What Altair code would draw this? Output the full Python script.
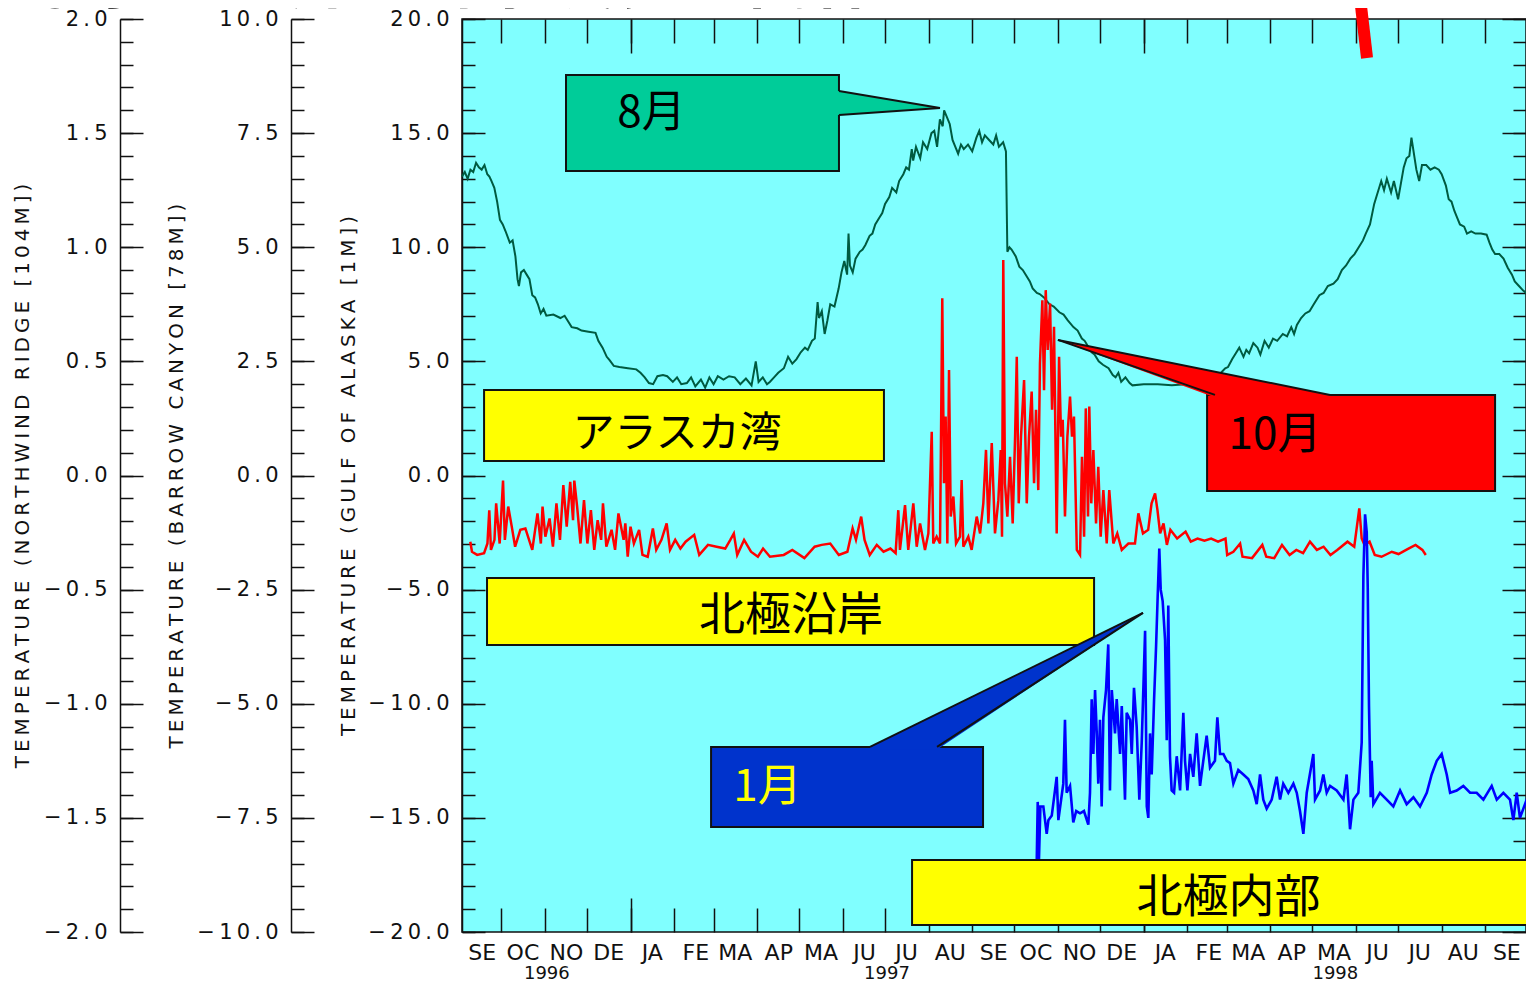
import json
import altair as alt
import pandas as pd

START = pd.Timestamp("1996-09-03")
W, H = 1064, 913
INK = "#111111"

# ---------------- series: days since 1996-09-03, temperature (degC) ----------------
# Gulf of Alaska, 1 m
GREEN_DAY = [
    0, 2, 4, 6, 8, 10, 12, 14, 16, 18,
    19.5, 21, 23, 25, 27, 29, 31, 34, 36, 38,
    39.5, 40.5, 42, 44, 46, 48, 50, 52, 54, 56,
    58, 60, 65, 70, 73, 76, 78, 82, 85, 90,
    95, 97, 100, 103, 105, 108, 112, 118, 124, 127,
    130, 133, 136, 139, 143, 146, 150, 153, 156, 160,
    163, 166, 170, 173, 176, 179, 182, 186, 190, 194,
    198, 202, 206, 209, 211, 214, 217, 219, 222, 225,
    229, 232, 235, 238, 241, 244, 246, 249, 251, 253,
    254, 256, 258, 260, 262, 265, 268, 270, 272, 274,
    275, 276, 278, 280, 283, 285, 287, 290, 292, 294,
    297, 299, 301, 304, 306, 309, 311, 314, 316, 318,
    320, 321, 323, 326, 328, 331, 334, 336, 338, 340,
    342, 343, 345, 347, 349, 351, 353, 355, 357, 360,
    363, 366, 368, 370, 372, 375, 378, 380, 382, 385,
    387, 388, 389.5, 391, 394, 396.5, 399, 401.5, 404, 406,
    409, 411, 414, 418, 421, 425, 428, 431, 435, 438,
    441, 443, 446, 448, 450, 453, 456, 460, 463, 465,
    467, 469, 472, 475, 477, 485, 495, 505, 515, 525,
    530, 533, 536, 540, 543, 545, 548, 550, 553, 556,
    558, 560, 563, 566, 568, 571, 574, 577, 580, 584,
    587, 590, 592, 594, 597, 600, 603, 606, 610, 613,
    616, 620, 623, 626, 629, 632, 635, 638, 641, 643,
    646, 649, 651, 654, 656, 658, 661, 663, 666, 668,
    670, 672, 674, 675.5, 677, 679, 681, 683, 686, 689,
    692, 695, 697, 700, 702, 704, 706, 708, 710, 713,
    715, 718, 721, 725, 729, 731, 733, 735, 738, 741,
    744, 747, 749, 752, 755, 758, 761, 763.5,
]
GREEN_TEMP = [
    13.1, 13.3, 13.0, 13.4, 13.3, 13.7, 13.5, 13.4, 13.6, 13.2,
    13.1, 12.9, 12.6, 12.0, 11.2, 11.0, 10.7, 10.2, 10.3, 9.6,
    8.6, 8.3, 8.9, 9.0, 8.8, 8.6, 7.9, 7.8, 7.5, 7.1,
    7.3, 7.0, 7.05, 6.9, 7.0, 6.7, 6.5, 6.45, 6.35, 6.3,
    6.25, 5.9, 5.6, 5.2, 5.05, 4.8, 4.75, 4.7, 4.65, 4.5,
    4.3, 4.05, 4.0, 4.35, 4.4, 4.35, 4.1, 4.3, 4.0, 4.05,
    4.3, 3.9, 4.2, 3.85, 4.3, 4.0, 4.35, 4.2, 4.35, 4.3,
    4.0, 4.25, 3.95, 5.0, 4.1, 4.3, 4.0, 4.1, 4.3, 4.5,
    4.7, 5.2, 4.9, 5.1, 5.4, 5.6, 5.5, 5.9, 6.0, 7.6,
    6.9, 7.2, 6.2, 6.8, 7.5, 7.4, 8.2, 8.9, 9.4, 8.8,
    10.6, 9.2, 8.9, 9.5, 9.8, 9.9, 10.1, 10.5, 10.6, 11.0,
    11.3, 11.5, 11.9, 12.2, 12.6, 12.4, 12.9, 13.2, 13.5, 13.4,
    14.3, 13.8, 14.4, 13.9, 14.6, 14.3, 15.0, 15.1, 14.4, 15.6,
    15.3, 16.0, 15.7, 15.4, 14.7, 14.4, 14.1, 14.5, 14.3, 14.5,
    14.2, 14.8, 15.1, 14.6, 14.9, 14.7, 14.5, 14.9, 14.4, 14.6,
    14.2, 9.8, 10.0, 9.9, 9.6, 9.15, 9.0, 8.75, 8.5, 8.2,
    8.0, 7.95, 7.8, 7.5, 7.4, 7.15, 7.05, 6.8, 6.5, 6.35,
    6.0, 5.9, 5.6, 5.4, 5.3, 5.0, 4.85, 4.7, 4.4, 4.3,
    4.5, 4.1, 4.3, 4.05, 3.95, 4.0, 4.0, 3.95, 4.0, 4.0,
    4.05, 4.2, 4.35, 4.5, 4.7, 4.75, 5.1, 5.3, 5.6, 5.2,
    5.5, 5.35, 5.8, 5.6, 5.3, 5.9, 5.6, 6.0, 5.9, 6.2,
    6.1, 6.5, 6.2, 6.6, 6.9, 7.1, 7.2, 7.5, 7.9, 8.0,
    8.3, 8.4, 8.6, 9.0, 9.2, 9.5, 9.7, 10.0, 10.3, 10.6,
    11.0, 11.9, 12.3, 12.9, 12.5, 13.0, 12.4, 12.9, 12.1, 12.8,
    13.5, 13.9, 14.0, 14.8, 14.2, 13.4, 12.9, 13.6, 13.6, 13.4,
    13.5, 13.4, 13.2, 12.7, 12.1, 12.0, 11.6, 11.3, 11.0, 10.9,
    10.6, 10.7, 10.6, 10.6, 10.55, 10.2, 9.9, 9.7, 9.7, 9.5,
    9.1, 8.8, 8.5, 8.3, 8.1, 7.95, 7.8, 7.7,
]

# Barrow Canyon, 78 m
RED_DAY = [
    5.9, 7.1, 10.8, 15.7, 18.1, 19.4, 20.6, 23.1, 24.3, 26.8,
    29.2, 30.5, 32.9, 35.4, 37.8, 41.5, 45.1, 50.0, 53.7, 56.1,
    57.3, 59.3, 62.3, 64.7, 67.2, 69.7, 72.1, 74.5, 77.0, 79.0,
    79.9, 81.9, 84.3, 86.8, 89.2, 91.7, 94.1, 96.5, 99.0, 100.3,
    102.7, 106.4, 108.9, 111.3, 115.0, 116.2, 117.9, 119.9, 122.3, 126.0,
    128.4, 132.1, 135.8, 138.2, 141.9, 145.6, 148.0, 151.7, 155.4, 159.1,
    165.2, 168.8, 175.0, 181.1, 187.3, 190.9, 193.4, 195.8, 200.7, 205.6,
    210.5, 214.2, 219.1, 228.9, 235.0, 243.6, 250.9, 255.9, 262.0, 268.1,
    274.2, 277.9, 280.3, 284.0, 286.4, 290.1, 295.1, 299.9, 304.8, 308.5,
    310.4, 311.6, 315.2, 317.5, 321.1, 323.5, 325.9, 329.4, 331.8, 334.2,
    335.3, 337.7, 340.1, 341.7, 342.9, 344.1, 345.3, 346.5, 347.7, 349.6,
    351.5, 354.3, 355.5, 356.7, 360.2, 362.6, 366.2, 368.6, 370.9, 372.8,
    374.5, 376.9, 379.2, 381.6, 383.3, 384.2, 385.1, 386.3, 388.0, 389.9,
    391.8, 393.5, 394.7, 396.1, 397.7, 399.9, 401.8, 403.4, 405.3, 407.0,
    408.4, 410.0, 411.2, 412.9, 414.1, 415.3, 416.7, 418.4, 419.8, 421.2,
    423.1, 424.8, 426.2, 427.4, 429.0, 430.7, 432.6, 434.0, 435.4, 437.4,
    439.7, 441.1, 442.6, 443.8, 445.4, 446.3, 447.7, 449.2, 451.1, 452.7,
    454.4, 456.3, 458.7, 460.5, 463.4, 466.2, 469.4, 474.1, 478.8, 481.2,
    484.5, 488.2, 490.6, 493.1, 494.8, 496.7, 499.1, 501.5, 504.0, 508.8,
    514.8, 518.5, 523.3, 528.2, 533.0, 537.9, 543.2, 544.4, 548.8, 553.6,
    555.3, 562.1, 569.4, 572.2, 577.9, 583.4, 588.8, 593.6, 598.4, 603.3,
    608.2, 613.0, 617.9, 622.7, 630.0, 634.8, 638.4, 640.1, 642.1, 645.7,
    649.4, 654.2, 661.5, 666.3, 672.4, 678.4, 683.3, 685.7,
]
RED_TEMP = [
    -1.45, -1.67, -1.74, -1.70, -1.49, -0.76, -1.63, -1.41, -0.61, -1.49,
    -0.11, -1.41, -0.68, -1.12, -1.56, -1.19, -1.16, -1.63, -0.83, -1.49,
    -0.68, -1.34, -0.94, -1.56, -0.61, -1.41, -0.21, -1.12, -0.14, -0.98,
    -0.11, -0.68, -1.49, -0.54, -1.49, -0.76, -1.63, -0.98, -1.41, -0.61,
    -1.56, -1.19, -1.63, -0.83, -1.41, -1.05, -1.78, -1.12, -1.49, -1.19,
    -1.74, -1.78, -1.16, -1.63, -1.41, -1.05, -1.63, -1.41, -1.60, -1.45,
    -1.30, -1.74, -1.52, -1.56, -1.60, -1.41, -1.27, -1.74, -1.41, -1.67,
    -1.78, -1.60, -1.78, -1.74, -1.63, -1.81, -1.56, -1.52, -1.49, -1.74,
    -1.67, -1.16, -1.41, -0.90, -1.41, -1.74, -1.52, -1.67, -1.60, -1.70,
    -0.76, -1.63, -0.65, -1.63, -0.61, -1.56, -1.05, -1.63, -1.27, 0.96,
    -1.49, -1.34, -1.49, 3.88, -0.17, 1.29, -1.49, 2.31, -0.90, -0.46,
    -1.49, -1.34, -0.10, -1.56, -1.34, -1.63, -0.90, -1.27, -0.61, 0.56,
    -1.05, 0.71, -1.27, -0.54, 0.56, -1.34, 4.72, -0.17, -0.90, 0.41,
    -1.05, 0.85, 2.60, -0.61, 0.85, 2.09, -0.61, 0.85, 1.84, -0.17,
    1.44, -0.32, 2.46, 3.84, 1.87, 4.06, 2.75, 3.77, 1.44, 3.26,
    -1.27, 2.60, 0.85, 1.22, -0.90, 0.85, 1.73, 0.85, 1.29, -1.63,
    -1.74, 0.41, -1.34, 1.47, -0.90, 1.51, -0.61, 0.56, -1.05, 0.19,
    -1.34, -0.32, -1.49, -0.32, -1.49, -1.27, -1.63, -1.49, -1.49, -0.83,
    -1.27, -1.19, -0.61, -0.39, -0.76, -1.27, -1.05, -1.52, -1.19, -1.38,
    -1.23, -1.45, -1.38, -1.43, -1.38, -1.45, -1.38, -1.74, -1.67, -1.49,
    -1.78, -1.81, -1.52, -1.78, -1.81, -1.52, -1.74, -1.63, -1.70, -1.45,
    -1.63, -1.56, -1.74, -1.63, -1.45, -1.56, -0.72, -1.38, -1.52, -1.45,
    -1.74, -1.78, -1.67, -1.72, -1.62, -1.52, -1.63, -1.74,
]

# Northwind Ridge, 104 m
BLUE_DAY = [
    408.9, 409.6, 410.5, 411.5, 413.6, 416.0, 417.2, 419.6, 423.1, 424.3,
    427.8, 429.0, 430.2, 432.6, 434.9, 437.0, 439.7, 442.5, 445.6, 446.8,
    448.0, 449.2, 450.4, 451.6, 452.7, 453.9, 455.1, 456.3, 458.2, 459.8,
    461.0, 462.3, 464.6, 465.8, 468.2, 469.4, 471.7, 472.9, 475.3, 476.5,
    478.1, 480.0, 481.9, 483.6, 486.0, 487.2, 488.3, 489.5, 490.7, 492.4,
    493.8, 495.0, 496.1, 497.1, 498.5, 500.2, 501.4, 502.5, 503.7, 504.9,
    506.6, 508.5, 510.9, 513.2, 514.4, 516.1, 518.0, 520.3, 522.7, 525.1,
    527.4, 529.8, 532.2, 535.7, 537.4, 539.3, 541.7, 544.1, 546.4, 548.8,
    552.3, 555.9, 559.4, 563.0, 565.4, 567.8, 570.1, 572.5, 576.1, 579.6,
    582.0, 584.3, 587.9, 591.5, 593.9, 596.2, 598.6, 601.0, 605.7, 606.9,
    610.5, 612.8, 615.2, 617.6, 622.3, 627.1, 629.4, 631.8, 634.2, 637.7,
    640.1, 641.3, 642.5, 643.7, 644.4, 645.3, 646.5, 647.2, 648.4, 653.1,
    657.9, 662.6, 667.4, 672.1, 676.9, 681.6, 686.4, 689.9, 693.5, 697.0,
    700.6, 703.0, 707.7, 712.4, 717.2, 721.9, 726.7, 732.6, 736.2, 740.9,
    745.6, 748.0, 750.4, 752.7, 757.5, 762.7,
]
BLUE_TEMP = [
    -1.69, -1.43, -1.68, -1.45, -1.45, -1.57, -1.51, -1.49, -1.32, -1.51,
    -1.35, -1.07, -1.39, -1.36, -1.52, -1.47, -1.48, -1.47, -1.53, -1.39,
    -0.98, -1.22, -0.94, -1.13, -1.35, -1.07, -1.45, -1.06, -0.94, -0.74,
    -1.38, -0.94, -1.13, -0.98, -1.22, -1.01, -1.42, -1.04, -1.07, -1.22,
    -0.93, -1.10, -1.42, -1.17, -0.68, -1.45, -1.50, -1.13, -1.31, -0.98,
    -0.75, -0.52, -0.32, -0.50, -0.55, -0.72, -1.16, -0.57, -1.23, -1.38,
    -1.39, -1.23, -1.38, -1.04, -1.25, -1.38, -1.22, -1.32, -1.13, -1.36,
    -1.25, -1.14, -1.28, -1.25, -1.06, -1.22, -1.22, -1.25, -1.26, -1.35,
    -1.29, -1.31, -1.33, -1.38, -1.44, -1.31, -1.42, -1.46, -1.42, -1.32,
    -1.42, -1.35, -1.39, -1.35, -1.39, -1.47, -1.57, -1.39, -1.22, -1.42,
    -1.38, -1.31, -1.39, -1.36, -1.38, -1.42, -1.31, -1.55, -1.42, -1.39,
    -1.17, -0.44, -0.17, -0.25, -0.49, -1.01, -1.41, -1.25, -1.44, -1.39,
    -1.42, -1.45, -1.38, -1.44, -1.41, -1.45, -1.39, -1.31, -1.25, -1.22,
    -1.31, -1.39, -1.38, -1.36, -1.39, -1.39, -1.42, -1.36, -1.42, -1.39,
    -1.42, -1.51, -1.39, -1.50, -1.42, -1.41,
]

# ---------------- axes text ----------------
MONTH_ABBR = ["JA", "FE", "MA", "AP", "MA", "JU", "JU", "AU", "SE", "OC", "NO", "DE"]
YEAR_LABELS = ["1996", "1997", "1998"]
GA_TICKS = [-20, -15, -10, -5, 0, 5, 10, 15, 20]
BC_TICKS = [-10, -7.5, -5, -2.5, 0, 2.5, 5, 7.5, 10]
NW_TICKS = [-2, -1.5, -1, -0.5, 0, 0.5, 1, 1.5, 2]
NW_TITLE = "TEMPERATURE (NORTHWIND RIDGE [104M])"
BC_TITLE = "TEMPERATURE (BARROW CANYON [78M])"
GA_TITLE = "TEMPERATURE (GULF OF ALASKA [1M])"
PAGE_TITLE = "①水温上昇と海氷減少の関係"

# ---------------- annotations (days since start, Gulf-scale temperature) ----------------
BOX_D0 = [74.0, 15.7, 17.8, 320.2, 530.1, 177.2]
BOX_D1 = [268.2, 300.2, 449.7, 768.0, 735.0, 370.7]
BOX_T0 = [17.55, 3.75, -4.49, -16.85, 3.53, -11.89]
BOX_T1 = [13.34, 0.64, -7.43, -19.69, -0.68, -15.40]
BOX_FILL = ["#00cc99", "#ffff00", "#ffff00", "#ffff00", "#ff0000", "#0033cc"]

TXT = ["8月", "アラスカ湾", "北極沿岸", "北極内部", "10月", "1月"]
TXT_D = [134.8, 153.0, 234.1, 545.3, 578.4, 217.4]
TXT_T = [15.82, 1.84, -6.16, -18.49, 1.71, -13.69]
TXT_COLOR = ["#000000", "#000000", "#000000", "#000000", "#000000", "#ffff00"]
TXT_SIZE = [44, 42, 46, 46, 44, 44]

# callout pointers, as upper / lower outline over the days they span
WEDGE_ID = ["aug", "aug", "aug", "oct", "oct", "oct", "jan", "jan", "jan"]
WEDGE_D = [266.8, 268.2, 340.1, 424.0, 535.7, 617.6, 290.3, 338.0, 484.5]
WEDGE_TOP = [16.85, 16.85, 16.10, 5.94, 4.55, 3.53, -11.89, -10.45, -6.02]
WEDGE_BOT = [15.79, 15.79, 16.10, 5.94, 3.42, 3.42, -12.0, -12.0, -6.02]
WEDGE_FILL = ["#00cc99"] * 3 + ["#ff0000"] * 3 + ["#0033cc"] * 3

EDGE_DA = [340.1, 340.1, 424.0, 424.0, 484.5, 484.5]
EDGE_TA = [16.10, 16.10, 5.94, 5.94, -6.02, -6.02]
EDGE_DB = [268.2, 268.2, 535.7, 617.6, 290.3, 338.0]
EDGE_TB = [16.85, 15.79, 3.53, 3.53, -11.89, -11.89]

SLASH_D = [638.7, 643.9]
SLASH_T = [21.05, 18.29]


def to_dates(days):
    return START + pd.to_timedelta(pd.Series(days, dtype=float), unit="D")


def dt(y, m, d, h=0):
    return alt.DateTime(year=y, month=m, date=d, hours=h)


green = pd.DataFrame({"date": to_dates(GREEN_DAY), "temp": GREEN_TEMP})
red = pd.DataFrame({"date": to_dates(RED_DAY), "temp": RED_TEMP})
blue = pd.DataFrame({"date": to_dates(BLUE_DAY), "temp": BLUE_TEMP})
dummy = pd.DataFrame({"date": to_dates([0]), "temp": [0.0]})

months = []
y, m = 1996, 10
while (y, m) <= (1998, 10):
    months.append((y, m))
    m += 1
    if m == 13:
        y, m = y + 1, 1
MONTH_STARTS = [dt(a, b, 1) for a, b in months[:-1]]
MONTH_MIDS = [dt(1996, 9, 17)] + [dt(a, b, 16) for a, b in months[:-1]]
JAN_STARTS = [dt(1997, 1, 1), dt(1998, 1, 1)]
YEAR_POS = [dt(1996, 11, 2), dt(1997, 7, 2), dt(1998, 5, 17)]

xscale = alt.Scale(domain=[dt(1996, 9, 3), dt(1998, 9, 30)])
SC_GA = alt.Scale(domain=[-20, 20], nice=False, zero=False)
SC_BC = alt.Scale(domain=[-10, 10], nice=False, zero=False)
SC_NW = alt.Scale(domain=[-2, 2], nice=False, zero=False)

THIN = "\u2009"
LABEL_EXPR_Y = "join(split(format(datum.value, '.1f'), ''), '" + THIN + "')"


def yaxis(offset, values, title, title_x):
    return alt.Axis(
        orient="left", offset=offset, values=values, labelExpr=LABEL_EXPR_Y,
        ticks=False, tickSize=0, domain=True, domainColor=INK, domainWidth=1.5,
        labelFont="DejaVu Sans", labelFontSize=21, labelPadding=13, labelColor=INK,
        labelFlush=False, labelOverlap=False, grid=False,
        title=THIN.join(title), titleFont="DejaVu Sans", titleFontSize=20,
        titleFontWeight="normal", titleColor=INK, titleX=title_x,
        titleBaseline="middle", titleAngle=270,
    )


def tick_axis(orient, offset, values, size):
    return alt.Axis(
        orient=orient, offset=offset, values=values, tickSize=size, ticks=True,
        labels=False, domain=False, grid=False, title=None,
        tickColor=INK, tickWidth=1.5,
    )


month_axis = alt.Axis(
    orient="bottom", values=MONTH_MIDS,
    labelExpr=json.dumps(MONTH_ABBR) + "[month(datum.value)]",
    ticks=False, tickSize=0, domain=False, grid=False, title=None,
    labelFont="DejaVu Sans", labelFontSize=22, labelPadding=10, labelColor=INK,
    labelFlush=False, labelOverlap=False, labelAngle=0,
)
year_axis = alt.Axis(
    orient="bottom", values=YEAR_POS,
    labelExpr=json.dumps(YEAR_LABELS) + "[year(datum.value) - 1996]",
    ticks=False, tickSize=0, domain=False, grid=False, title=None,
    labelFont="DejaVu Sans", labelFontSize=18, labelPadding=32, labelColor=INK,
    labelFlush=False, labelOverlap=False, labelAngle=0,
)


def xenc(field="date", axis=None):
    return alt.X(f"{field}:T", scale=xscale, axis=axis, title=None)


def tick_layer(yscale, yaxis_def, xaxis_def=None):
    return alt.Chart(dummy).mark_point(opacity=0, size=0).encode(
        x=xenc(axis=xaxis_def), y=alt.Y("temp:Q", scale=yscale, axis=yaxis_def)
    )


GA_MINOR = list(range(-20, 21))
BC_MINOR = [round(-10 + 0.5 * i, 1) for i in range(41)]
NW_MINOR = [round(-2 + 0.1 * i, 1) for i in range(41)]

ticks = [
    tick_layer(SC_GA, tick_axis("right", -W, GA_TICKS, 23), tick_axis("top", -H, MONTH_STARTS, 24)),
    tick_layer(SC_GA, tick_axis("right", -W, GA_MINOR, 13), tick_axis("bottom", -H, MONTH_STARTS, 24)),
    tick_layer(SC_GA, tick_axis("left", -W, GA_TICKS, 24), tick_axis("bottom", -H, JAN_STARTS, 34)),
    tick_layer(SC_GA, tick_axis("left", -W, GA_MINOR, 13), tick_axis("top", -H, JAN_STARTS, 34)),
    tick_layer(SC_BC, tick_axis("right", -(W + 171), BC_TICKS, 23)),
    tick_layer(SC_BC, tick_axis("right", -(W + 171), BC_MINOR, 13)),
    tick_layer(SC_NW, tick_axis("right", -(W + 342), NW_TICKS, 23)),
    tick_layer(SC_NW, tick_axis("right", -(W + 342), NW_MINOR, 13)),
]

green_line = alt.Chart(green).mark_line(color="#005a40", strokeWidth=2).encode(
    x=xenc(axis=month_axis),
    y=alt.Y("temp:Q", scale=SC_GA, axis=yaxis(0, GA_TICKS, GA_TITLE, -114)),
)
red_line = alt.Chart(red).mark_line(color="#ff0000", strokeWidth=2.5).encode(
    x=xenc(axis=year_axis),
    y=alt.Y("temp:Q", scale=SC_BC, axis=yaxis(171, BC_TICKS, BC_TITLE, -115)),
)
blue_line = alt.Chart(blue).mark_line(color="#0000ff", strokeWidth=2.6).encode(
    x=xenc(),
    y=alt.Y("temp:Q", scale=SC_NW, axis=yaxis(342, NW_TICKS, NW_TITLE, -98)),
)

boxes_df = pd.DataFrame({"d0": to_dates(BOX_D0), "d1": to_dates(BOX_D1),
                         "t0": BOX_T0, "t1": BOX_T1, "fill": BOX_FILL})
boxes = alt.Chart(boxes_df).mark_rect(stroke=INK, strokeWidth=2).encode(
    x=xenc("d0"), x2="d1:T",
    y=alt.Y("t0:Q", scale=SC_GA, axis=None), y2="t1:Q",
    fill=alt.Fill("fill:N", scale=None),
)

wedge_df = pd.DataFrame({"id": WEDGE_ID, "d": to_dates(WEDGE_D), "top": WEDGE_TOP,
                         "bot": WEDGE_BOT, "fill": WEDGE_FILL})
wedges = alt.Chart(wedge_df).mark_area(orient="vertical", opacity=1).encode(
    x=xenc("d"), y=alt.Y("top:Q", scale=SC_GA, axis=None), y2="bot:Q",
    fill=alt.Fill("fill:N", scale=None), detail="id:N",
)

edge_df = pd.DataFrame({"a": to_dates(EDGE_DA), "b": to_dates(EDGE_DB),
                        "ta": EDGE_TA, "tb": EDGE_TB})
edges = alt.Chart(edge_df).mark_rule(color=INK, strokeWidth=2).encode(
    x=xenc("a"), x2="b:T", y=alt.Y("ta:Q", scale=SC_GA, axis=None), y2="tb:Q",
)

txt_df = pd.DataFrame({"d": to_dates(TXT_D), "t": TXT_T, "label": TXT,
                       "c": TXT_COLOR, "s": TXT_SIZE})
texts = alt.Chart(txt_df).mark_text(font="Noto Sans CJK JP", align="center", baseline="middle").encode(
    x=xenc("d"), y=alt.Y("t:Q", scale=SC_GA, axis=None), text="label:N",
    color=alt.Color("c:N", scale=None), size=alt.Size("s:Q", scale=None),
)

slash_df = pd.DataFrame({"d": to_dates([SLASH_D[0]]), "d2": to_dates([SLASH_D[1]]),
                         "t": [SLASH_T[0]], "t2": [SLASH_T[1]]})
slash = alt.Chart(slash_df).mark_rule(color="#ff0000", strokeWidth=12, strokeCap="butt").encode(
    x=xenc("d"), x2="d2:T", y=alt.Y("t:Q", scale=SC_GA, axis=None), y2="t2:Q",
)

title_df = pd.DataFrame({"label": [PAGE_TITLE]})
title = alt.Chart(title_df).mark_text(
    font="Noto Sans CJK JP", fontWeight="bold", fontSize=66, align="left",
    baseline="bottom", color="#000000",
).encode(x=alt.value(-440), y=alt.value(-3), text="label:N")

chart = (
    alt.layer(*ticks, green_line, red_line, blue_line, boxes, wedges,
              edges, texts, slash, title)
    .resolve_scale(y="independent")
    .resolve_axis(x="independent", y="independent")
    .properties(
        width=W, height=H,
        autosize=alt.AutoSizeParams(type="none"),
        padding={"left": 454, "top": 11, "right": 0, "bottom": 51},
        background="white",
    )
    .configure_view(fill="#80ffff", stroke=INK, strokeWidth=1.5)
)

chart.save("out.html", embed_options={"renderer": "svg", "actions": False})
